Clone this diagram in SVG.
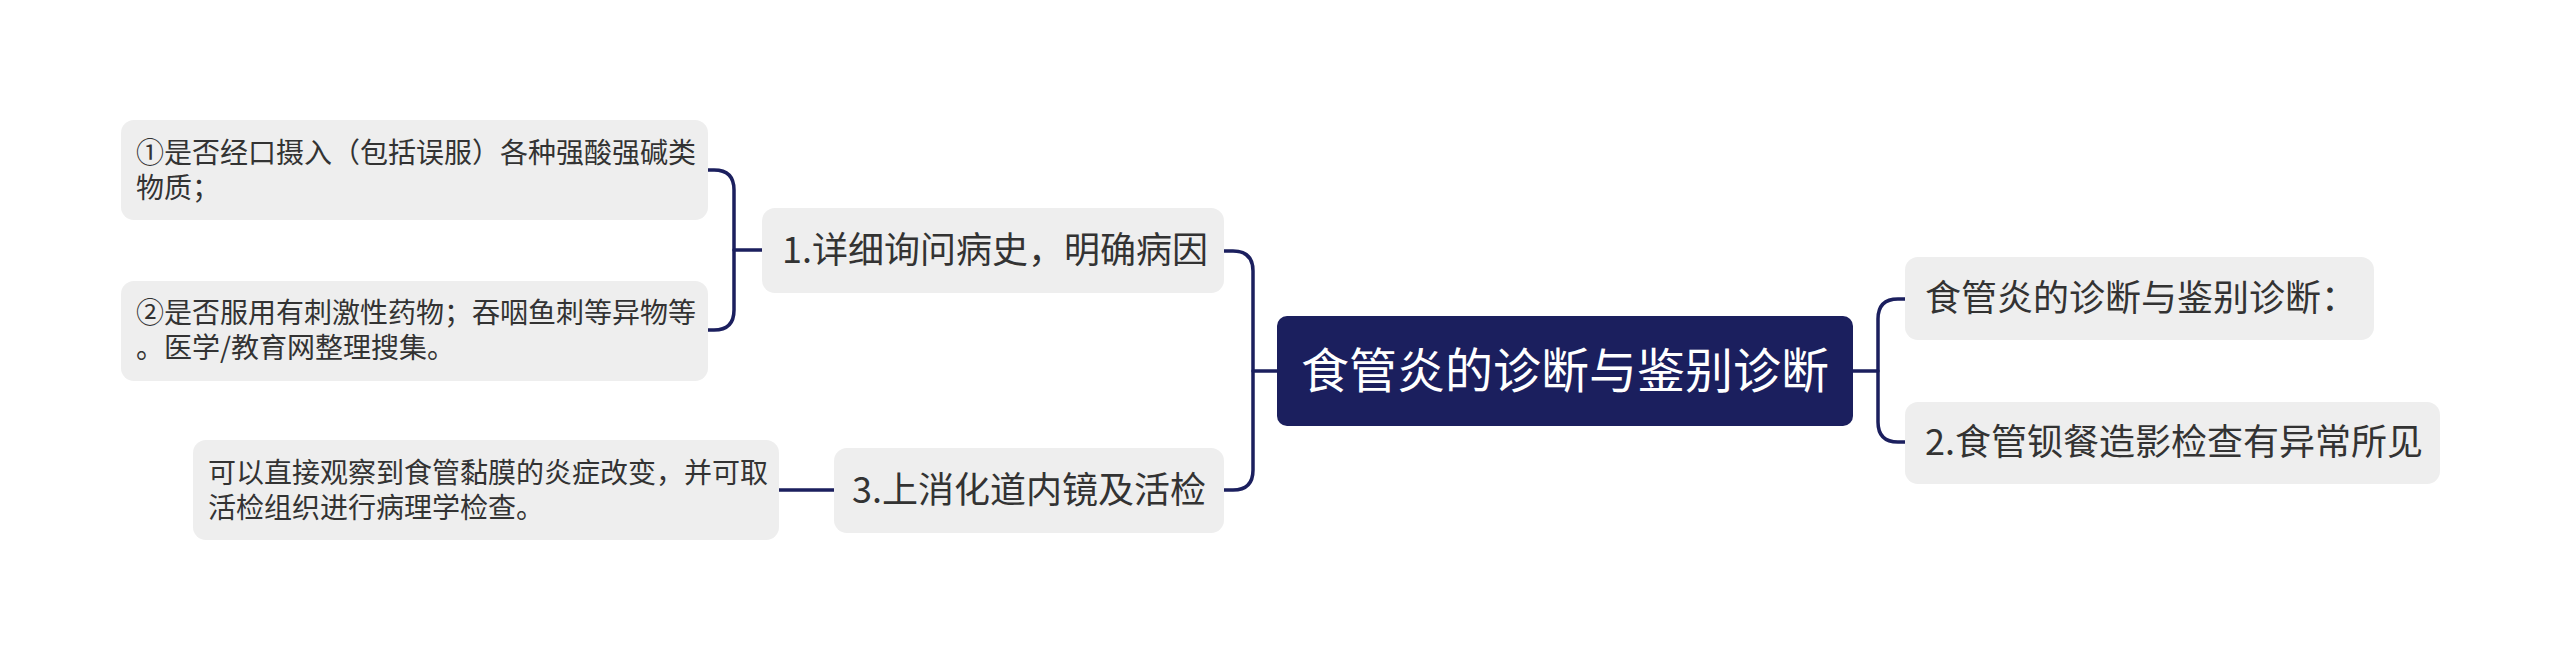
<svg xmlns="http://www.w3.org/2000/svg" width="2560" height="661" viewBox="0 0 2560 661">
<style>
.box{fill:#eeeeee;}
.root{fill:#1b1f5e;}
.t{font-family:"Noto Sans CJK SC","Noto Sans",sans-serif;fill:#333333;}
.s{font-size:28px;}
.m{font-size:36px;}
.r{font-size:48px;fill:#ffffff;}
.c{fill:none;stroke:#1b1f5e;stroke-width:3.5;stroke-linecap:round;}
</style>
<rect width="2560" height="661" fill="#ffffff"/>
<g id="connectors">
<path class="c" d="M1253,371 H1277"/>
<path class="c" d="M1224,251 H1233 Q1253,251 1253,271 V470 Q1253,490 1233,490 H1224"/>
<path class="c" d="M708,170 H714 Q734,170 734,190 V310 Q734,330 714,330 H708"/>
<path class="c" d="M734,250 H762"/>
<path class="c" d="M779,490 H834"/>
<path class="c" d="M1853,371 H1878"/>
<path class="c" d="M1905,299 H1898 Q1878,299 1878,319 V422 Q1878,442 1898,442 H1905"/>
</g>
<g id="root">
<rect class="root" x="1277" y="316" width="576" height="110" rx="10"/>
<text class="t r" x="1565" y="388" text-anchor="middle">食管炎的诊断与鉴别诊断</text>
</g>
<g id="n1">
<rect class="box" x="762" y="208" width="462" height="85" rx="13"/>
<text class="t m" x="995" y="263" text-anchor="middle">1.详细询问病史，明确病因</text>
</g>
<g id="n1a">
<rect class="box" x="121" y="120" width="587" height="100" rx="13"/>
<text class="t s" x="136" y="163">①是否经口摄入（包括误服）各种强酸强碱类</text>
<text class="t s" x="136" y="198">物质；</text>
</g>
<g id="n1b">
<rect class="box" x="121" y="281" width="587" height="100" rx="13"/>
<text class="t s" x="136" y="323">②是否服用有刺激性药物；吞咽鱼刺等异物等</text>
<text class="t s" x="136" y="358">。医学/教育网整理搜集。</text>
</g>
<g id="n3">
<rect class="box" x="834" y="448" width="390" height="85" rx="13"/>
<text class="t m" x="1029" y="503" text-anchor="middle">3.上消化道内镜及活检</text>
</g>
<g id="n3a">
<rect class="box" x="193" y="440" width="586" height="100" rx="13"/>
<text class="t s" x="208" y="483">可以直接观察到食管黏膜的炎症改变，并可取</text>
<text class="t s" x="208" y="518">活检组织进行病理学检查。</text>
</g>
<g id="r1">
<rect class="box" x="1905" y="257" width="469" height="83" rx="13"/>
<text class="t m" x="1925" y="311">食管炎的诊断与鉴别诊断：</text>
</g>
<g id="r2">
<rect class="box" x="1905" y="402" width="535" height="82" rx="13"/>
<text class="t m" x="1925" y="455">2.食管钡餐造影检查有异常所见</text>
</g>
</svg>
